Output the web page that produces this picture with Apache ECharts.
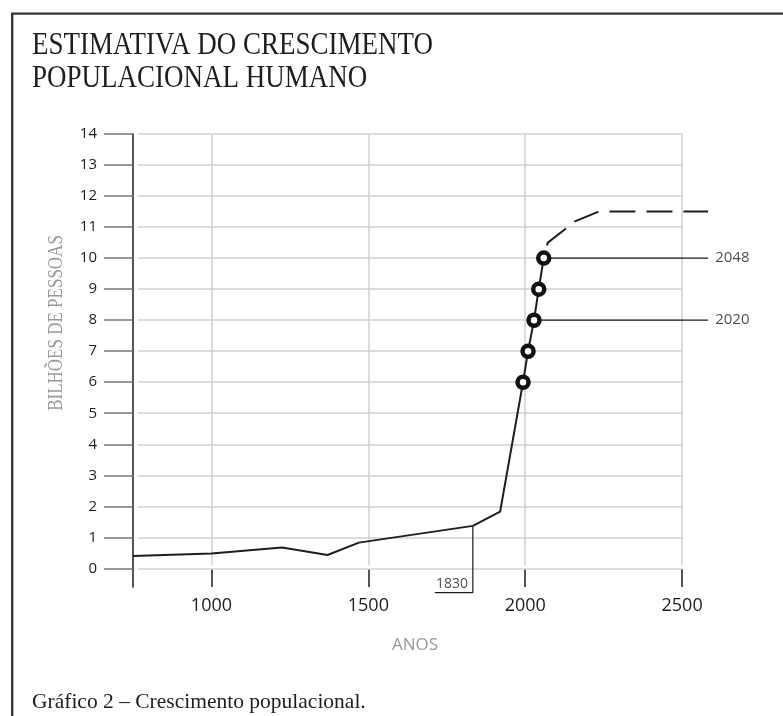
<!DOCTYPE html>
<html>
<head>
<meta charset="utf-8">
<script src="https://cdn.jsdelivr.net/npm/echarts@6/dist/echarts.min.js"></script>
<style>
  html, body { margin: 0; padding: 0; background: #fff; }
  #chart { width: 783px; height: 716px; }
</style>
</head>
<body>
<div id="chart"></div>
<script>
// historical estimate (years, billions)
const years = [750, 1000, 1225, 1370, 1470, 1833, 1920, 1993, 2009, 2028, 2043, 2059];
const population = [0.4, 0.48, 0.67, 0.43, 0.83, 1.37, 1.83, 6, 7, 8, 9, 10];
// projection (dashed)
const projYears = [2059, 2066, 2072, 2136, 2150, 2230, 2260, 2583];
const projPopulation = [10, 10.3, 10.5, 11.0, 11.15, 11.48, 11.5, 11.5];
// circled milestones
const markerYears = [1993, 2009, 2028, 2043, 2059];
const markerPopulation = [6, 7, 8, 9, 10];
// callouts
const calloutLabels = ['2048', '2020'];
const calloutYears = [2059, 2028];
const calloutValues = [10, 8];
const calloutEnd = 2583;
const note1830 = { year: 1833, value: 1.37, label: '1830', low: -0.78, left: 1712, textYear: 1767 };
// axes
const xTicks = [1000, 1500, 2000, 2500];
const yTicks = [0, 1, 2, 3, 4, 5, 6, 7, 8, 9, 10, 11, 12, 13, 14];
const gridFrom = 766, gridTo = 2500;

const pair = (xs, ys) => xs.map((x, i) => [x, ys[i]]);
const ink = '#1e1e1e';
const gridGray = '#d0d0d0';
const serif = '"Liberation Serif", "DejaVu Serif", serif';
const sans = '"Open Sans", "DejaVu Sans", sans-serif';

const chart = echarts.init(document.getElementById('chart'));

// grid lines stop at 2500 while the projection runs past it
const gridLines = [];
yTicks.forEach(v => gridLines.push([{ coord: [gridFrom, v] }, { coord: [gridTo, v] }]));
xTicks.forEach(v => gridLines.push([{ coord: [v, 0.1] }, { coord: [v, 14] }]));

const series = [
  {
    type: 'line',
    data: pair(years, population),
    symbol: 'none',
    lineStyle: { color: ink, width: 2 },
    z: 3,
    markLine: {
      silent: true,
      symbol: ['none', 'none'],
      label: { show: false },
      lineStyle: { color: gridGray, width: 1.5, type: 'solid' },
      emphasis: { disabled: true },
      data: gridLines,
      z: 1
    }
  },
  {
    type: 'line',
    data: pair(projYears, projPopulation),
    symbol: 'none',
    lineStyle: { color: ink, width: 2, type: [26, 11], dashOffset: 24 },
    z: 3
  },
  {
    type: 'line',
    data: [[note1830.year, note1830.value], [note1830.year, note1830.low], [note1830.left, note1830.low]],
    symbol: 'none',
    clip: false,
    lineStyle: { color: ink, width: 1.2 },
    z: 2
  },
  {
    type: 'scatter',
    data: [[note1830.textYear, note1830.low]],
    symbolSize: 0,
    clip: false,
    label: {
      show: true, position: 'top', distance: 2, formatter: note1830.label,
      color: ink, fontFamily: sans, fontSize: 14
    }
  }
];

calloutLabels.forEach((txt, i) => {
  series.push({
    type: 'line',
    data: [[calloutYears[i], calloutValues[i]], [calloutEnd, calloutValues[i]]],
    symbol: 'none',
    lineStyle: { color: ink, width: 1.2 },
    z: 2
  });
  series.push({
    type: 'scatter',
    data: [[calloutEnd, calloutValues[i]]],
    symbolSize: 0,
    label: {
      show: true, position: 'right', distance: 7, formatter: txt,
      color: ink, fontFamily: sans, fontSize: 15
    }
  });
});

series.push({
  type: 'scatter',
  data: pair(markerYears, markerPopulation),
  symbol: 'circle',
  symbolSize: 11,
  itemStyle: { color: '#fff', borderColor: '#111', borderWidth: 4.5, opacity: 1 },
  z: 5
});

chart.setOption({
  animation: false,
  backgroundColor: '#fff',
  grid: { left: 133, right: 69.5, top: 134, bottom: 129 },
  xAxis: {
    type: 'value',
    min: 750,
    max: 2600,
    axisLine: { show: false, onZero: false },
    axisTick: { show: true, inside: true, length: 18, customValues: xTicks,
      lineStyle: { color: '#555', width: 2 } },
    axisLabel: { customValues: xTicks, margin: 10, color: ink, fontFamily: sans, fontSize: 18,
      formatter: v => String(v) },
    splitLine: { show: false }
  },
  yAxis: {
    type: 'value',
    min: -0.6,
    max: 14,
    axisLine: { show: true, onZero: false, lineStyle: { color: ink, width: 1.5 } },
    axisTick: { show: true, length: 29, customValues: yTicks,
      lineStyle: { color: '#777', width: 1.5 } },
    axisLabel: { customValues: yTicks, margin: 36, color: ink, fontFamily: sans, fontSize: 15 },
    splitLine: { show: false }
  },
  graphic: [
    { type: 'rect', shape: { x: 12.2, y: 13.7, width: 900, height: 900 },
      style: { fill: 'none', stroke: '#333', lineWidth: 2.3 }, silent: true },
    { type: 'text', x: 32, y: 29, scaleY: 1.15,
      style: { text: 'ESTIMATIVA DO CRESCIMENTO\nPOPULACIONAL HUMANO', fill: ink,
        font: '27px ' + serif, lineHeight: 29 } },
    { type: 'text', x: 57, y: 323, rotation: Math.PI / 2, scaleY: 1.2,
      style: { text: 'BILHÕES DE PESSOAS', fill: '#999', font: '17px ' + serif,
        align: 'center', verticalAlign: 'middle' } },
    { type: 'text', x: 415, y: 645,
      style: { text: 'ANOS', fill: '#999', font: '17px ' + sans,
        align: 'center', verticalAlign: 'middle' } },
    { type: 'text', x: 32, y: 702,
      style: { text: 'Gráfico 2 – Crescimento populacional.', fill: ink, font: '21.5px ' + serif,
        verticalAlign: 'middle' } }
  ],
  series: series
});
</script>
</body>
</html>
